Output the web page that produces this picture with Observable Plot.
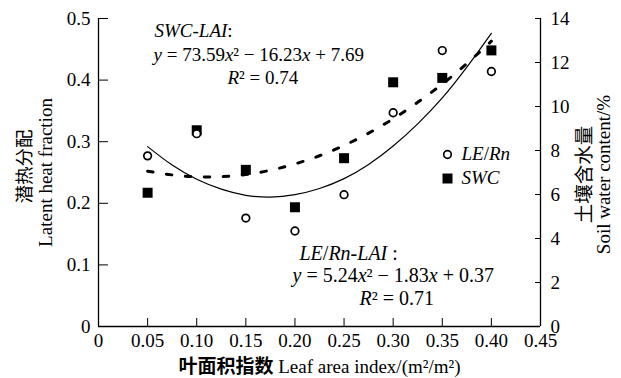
<!DOCTYPE html>
<html>
<head>
<meta charset="utf-8">
<script src="https://cdn.jsdelivr.net/npm/d3@7"></script>
<script src="https://cdn.jsdelivr.net/npm/@observablehq/plot@0.6"></script>
<style>
  html, body { margin: 0; padding: 0; background: #fff; }
  svg { display: block; }
  svg text { font-family: 'Liberation Serif', 'Times New Roman', serif; }
</style>
</head>
<body>
<div id="chart"></div>
<script>
// ---- data ----
const lai   = [0.05, 0.10, 0.15, 0.20, 0.25, 0.30, 0.35, 0.40];           // Leaf area index
const leRn  = [0.277, 0.313, 0.176, 0.155, 0.214, 0.347, 0.448, 0.414];   // LE/Rn (left axis)
const swc   = [6.08, 8.92, 7.12, 5.42, 7.65, 11.10, 11.30, 12.55];        // SWC % (right axis)

// fitted curves as drawn in the figure
const fitX   = [0.05, 0.075, 0.10, 0.125, 0.15, 0.175, 0.20, 0.225, 0.25, 0.275, 0.30, 0.325, 0.35, 0.375, 0.40];
const fitLE  = [0.292, 0.262, 0.239, 0.223, 0.213, 0.210, 0.214, 0.224, 0.240, 0.263, 0.293, 0.329, 0.371, 0.421, 0.476];
const fitSWC = [7.06, 6.89, 6.80, 6.81, 6.91, 7.10, 7.39, 7.76, 8.23, 8.79, 9.44, 10.19, 11.02, 11.95, 12.97];

// axis ticks
const xTicks  = [0, 0.05, 0.10, 0.15, 0.20, 0.25, 0.30, 0.35, 0.40, 0.45];
const yTicks  = [0, 0.1, 0.2, 0.3, 0.4, 0.5];
const y2Ticks = [0, 2, 4, 6, 8, 10, 12, 14];

// texts
const xTitle   = "#叶面积指数# Leaf area index/(m²/m²)";
const yTitleCN = "[潜热分配]";
const yTitleEN = "Latent heat fraction";
const y2TitleCN = "{土壤含水量}";
const y2TitleEN = "Soil water content/%";
const swcEq = ["*SWC-LAI*:", "*y* = 73.59*x*² − 16.23*x* + 7.69", "*R*² = 0.74"];
const leEq  = ["*LE*/*Rn-LAI* :", "*y* = 5.24*x*² − 1.83*x* + 0.37", "*R*² = 0.71"];
const legendLabels = ["*LE*/*Rn*", "*SWC*"];

// dual axis mapping: right 0..14 <-> left 0..0.5
const yMax = 0.5, y2Max = 14, xMax = 0.45;
const toLeft = v => v * yMax / y2Max;

const points = lai.map((x, i) => ({x, le: leRn[i], swc: toLeft(swc[i])}));
const fit = fitX.map((x, i) => ({x, le: fitLE[i], swc: toLeft(fitSWC[i])}));

const fmt2 = d => d === 0 ? "0" : d.toFixed(2);
const fmt1 = d => d === 0 ? "0" : d.toFixed(1);

const FONT = "'Liberation Serif', 'Times New Roman', serif";
const axisStyle = {fontSize: 19, fill: "#000", label: null, tickSize: 0, className: "tick-label"};
const tl = {frameAnchor: "top-left", textAnchor: "start", lineAnchor: "bottom", className: "rich", fill: "#000"};

const chart = Plot.plot({
  width: 621,
  height: 378,
  marginLeft: 98,
  marginRight: 81,
  marginTop: 18,
  marginBottom: 52,
  style: {fontFamily: FONT, fontSize: "19px", background: "#fff", color: "#000"},
  x: {domain: [0, xMax]},
  y: {domain: [0, yMax]},
  marks: [
    // axis lines
    Plot.ruleX([0, xMax], {stroke: "#000", strokeWidth: 1.3}),
    Plot.ruleY([0], {stroke: "#000", strokeWidth: 1.3}),
    // inward tick marks
    Plot.ruleX(xTicks, {x: d => d, y1: 0, y2: 0, insetTop: -8, stroke: "#000", strokeWidth: 1}),
    Plot.ruleY(yTicks, {y: d => d, x1: 0, x2: 0, insetRight: -10, stroke: "#000", strokeWidth: 1}),
    Plot.ruleY(y2Ticks.map(toLeft), {y: d => d, x1: xMax, x2: xMax, insetLeft: -5, stroke: "#000", strokeWidth: 1}),
    // tick labels
    Plot.axisX(xTicks, {...axisStyle, anchor: "bottom", tickPadding: 7, tickFormat: fmt2}),
    Plot.axisY(yTicks, {...axisStyle, anchor: "left", tickPadding: 8, tickFormat: fmt1}),
    Plot.axisY(y2Ticks.map(toLeft), {...axisStyle, anchor: "right", tickPadding: 10,
      tickFormat: d => String(Math.round(d * y2Max / yMax))}),
    // fitted curves
    Plot.line(fit, {x: "x", y: "le", curve: "natural", stroke: "#000", strokeWidth: 1.2}),
    Plot.line(fit, {x: "x", y: "swc", curve: "natural", stroke: "#000", strokeWidth: 3, strokeDasharray: "5.5,13.5"}),
    // points
    Plot.dot(points, {x: "x", y: "swc", symbol: "square", r: 5.64, fill: "#000", stroke: "none"}),
    Plot.dot(points, {x: "x", y: "le", symbol: "circle", r: 3.8, fill: "#fff", stroke: "#000", strokeWidth: 1.7}),
    // legend
    Plot.dot([0], {frameAnchor: "top-left", dx: 349, dy: 136, r: 3.8, fill: "#fff", stroke: "#000", strokeWidth: 1.7}),
    Plot.dot([0], {frameAnchor: "top-left", dx: 349, dy: 160, symbol: "square", r: 5.64, fill: "#000"}),
    Plot.text([legendLabels[0]], {...tl, text: d => d, dx: 363, dy: 141}),
    Plot.text([legendLabels[1]], {...tl, text: d => d, dx: 363, dy: 165}),
    // equations
    Plot.text([swcEq[0]], {...tl, text: d => d, dx: 56, dy: 18}),
    Plot.text([swcEq[1]], {...tl, text: d => d, dx: 55, dy: 42}),
    Plot.text([swcEq[2]], {...tl, text: d => d, dx: 129, dy: 65}),
    Plot.text([leEq[0]], {...tl, text: d => d, dx: 201, dy: 241, fontSize: 20}),
    Plot.text([leEq[1]], {...tl, text: d => d, dx: 194, dy: 263, fontSize: 20}),
    Plot.text([leEq[2]], {...tl, text: d => d, dx: 261, dy: 286, fontSize: 20}),
    // axis titles
    Plot.text([xTitle], {frameAnchor: "bottom", textAnchor: "middle", lineAnchor: "bottom", dy: 46, text: d => d, className: "rich", fill: "#000"}),
    Plot.text([yTitleCN], {frameAnchor: "left", rotate: -90, textAnchor: "middle", lineAnchor: "middle", dx: -74, dy: -6, text: d => d, className: "rich", fill: "#000"}),
    Plot.text([yTitleEN], {frameAnchor: "left", rotate: -90, textAnchor: "middle", lineAnchor: "middle", dx: -53, dy: 0, text: d => d, className: "rich", fill: "#000"}),
    Plot.text([y2TitleCN], {frameAnchor: "right", rotate: -90, textAnchor: "middle", lineAnchor: "middle", dx: 44, dy: 2, text: d => d, className: "rich", fill: "#000"}),
    Plot.text([y2TitleEN], {frameAnchor: "right", rotate: -90, textAnchor: "middle", lineAnchor: "middle", dx: 63, dy: 2, text: d => d, className: "rich", fill: "#000"})
  ]
});

// serif font on all texts (axis labels included)
d3.select(chart).selectAll("g").filter(function () { return this.hasAttribute("font-family"); }).attr("font-family", FONT);
d3.select(chart).selectAll("text").attr("font-family", FONT);

// rich text: *italic*, [CJK], {CJK larger}, #CJK bold#
d3.select(chart).selectAll("g.rich text").each(function () {
  const s = this.textContent;
  const sel = d3.select(this);
  sel.text(null);
  s.split(/(\*[^*]+\*|\[[^\]]+\]|\{[^}]+\}|#[^#]+#)/).filter(Boolean).forEach(p => {
    const t = sel.append("tspan");
    if (p[0] === "*") t.attr("font-style", "italic").text(p.slice(1, -1));
    else if (p[0] === "[") t.attr("font-family", "'Noto Sans CJK SC'").attr("font-size", "18.5px").attr("fill", "#000").text(p.slice(1, -1));
    else if (p[0] === "{") t.attr("font-family", "'Noto Sans CJK SC'").attr("font-size", "19.5px").attr("fill", "#000").text(p.slice(1, -1));
    else if (p[0] === "#") t.attr("font-family", "'Noto Sans CJK SC'").attr("font-weight", "bold").attr("font-size", "19px").attr("fill", "#000").text(p.slice(1, -1));
    else t.text(p);
  });
});

document.getElementById("chart").appendChild(chart);
</script>
</body>
</html>
